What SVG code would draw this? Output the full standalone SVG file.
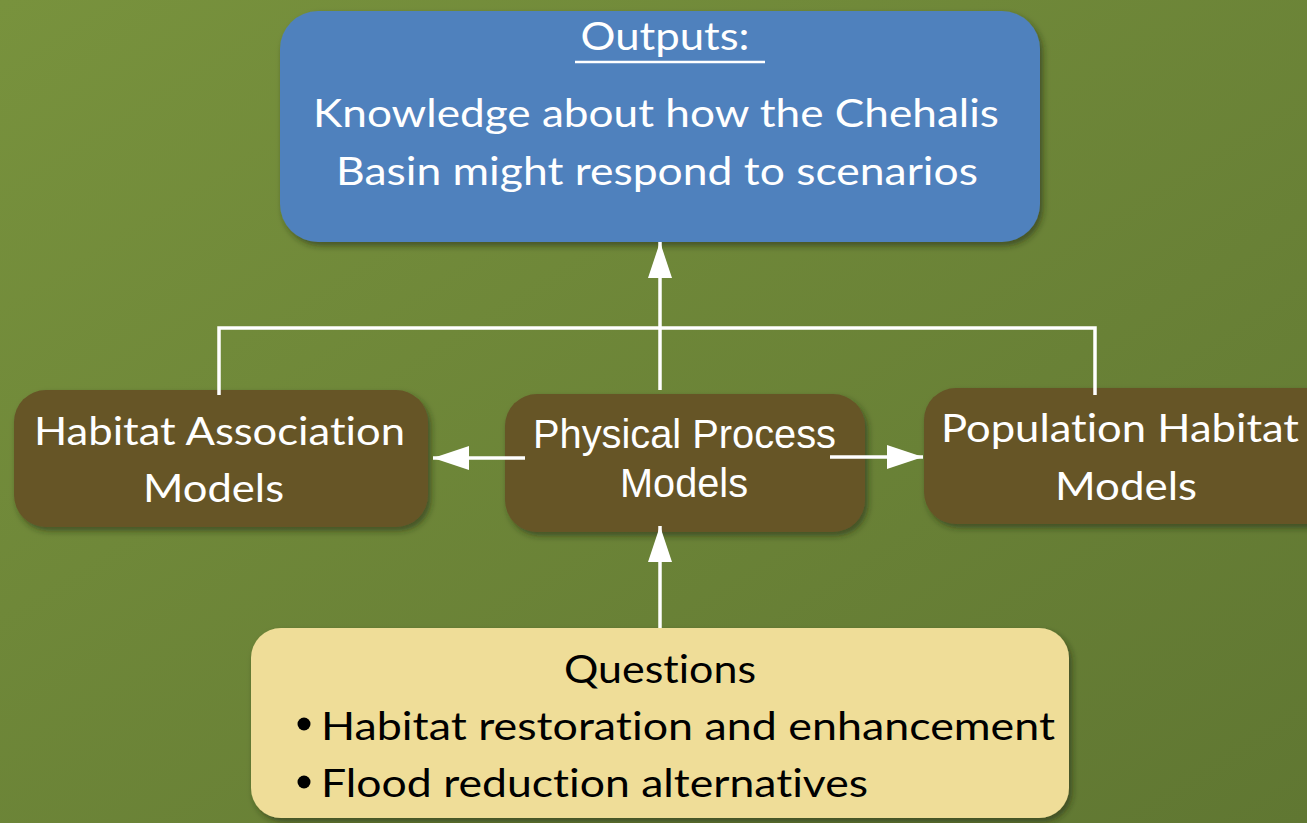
<svg xmlns="http://www.w3.org/2000/svg" width="1307" height="823" viewBox="0 0 1307 823">
<defs>
<linearGradient id="bg" x1="0" y1="0" x2="1" y2="1">
<stop offset="0" stop-color="#78923d"/>
<stop offset="1" stop-color="#607732"/>
</linearGradient>
<filter id="sh" x="-10%" y="-10%" width="125%" height="130%">
<feDropShadow dx="3" dy="4" stdDeviation="3" flood-color="#1e2a0a" flood-opacity="0.55"/>
</filter>
<marker id="ah" viewBox="0 0 36 24" refX="36" refY="12" markerWidth="36" markerHeight="24" markerUnits="userSpaceOnUse" orient="auto">
<path d="M0,0 L36,12 L0,24 z" fill="#ffffff"/>
</marker>
<style>
text{font-variant-ligatures:none;font-feature-settings:"liga" 0,"clig" 0}
.w{fill:#ffffff;font-family:Lato,"Open Sans",sans-serif;font-size:39px}
.a{fill:#ffffff;font-family:"Liberation Sans",Arial,sans-serif;font-size:40px}
.k{fill:#000000;font-family:Lato,"Open Sans",sans-serif;font-size:39px}
.ln{stroke:#ffffff;stroke-width:3.5;fill:none}
.brown{fill:#665428}
</style>
</defs>
<rect width="1307" height="823" fill="url(#bg)"/>
<g id="outputs">
<rect x="280" y="11" width="760" height="231" rx="38" fill="#4f81bd" filter="url(#sh)"/>
<text class="w" x="665" y="50" text-anchor="middle" textLength="169" lengthAdjust="spacingAndGlyphs">Outputs:</text>
<line x1="575" y1="62" x2="765" y2="62" stroke="#ffffff" stroke-width="2.5"/>
<text class="w" x="313" y="127" textLength="686" lengthAdjust="spacingAndGlyphs">Knowledge about how the Chehalis</text>
<text class="w" x="336" y="185" textLength="642" lengthAdjust="spacingAndGlyphs">Basin might respond to scenarios</text>
</g>
<g id="habitat-association">
<rect class="brown" x="14" y="390" width="414" height="137" rx="32" filter="url(#sh)"/>
<text class="w" x="34" y="445" textLength="371" lengthAdjust="spacingAndGlyphs">Habitat Association</text>
<text class="w" x="143" y="502" textLength="141" lengthAdjust="spacingAndGlyphs">Models</text>
</g>
<g id="physical-process">
<rect class="brown" x="505" y="394" width="360" height="138" rx="32" filter="url(#sh)"/>
<text class="a" x="533" y="448" textLength="303" lengthAdjust="spacingAndGlyphs">Physical Process</text>
<text class="a" x="620" y="497" textLength="128" lengthAdjust="spacingAndGlyphs">Models</text>
</g>
<g id="population-habitat">
<rect class="brown" x="924" y="388" width="420" height="136" rx="32" filter="url(#sh)"/>
<text class="w" x="941" y="442" textLength="358" lengthAdjust="spacingAndGlyphs">Population Habitat</text>
<text class="w" x="1055" y="500" textLength="142" lengthAdjust="spacingAndGlyphs">Models</text>
</g>
<g id="questions">
<rect x="251" y="628" width="818" height="190" rx="30" fill="#efdd98" filter="url(#sh)"/>
<text class="k" x="564" y="683" textLength="192" lengthAdjust="spacingAndGlyphs">Questions</text>
<circle cx="304" cy="724" r="6.5" fill="#000000"/>
<text class="k" x="321" y="740" textLength="734" lengthAdjust="spacingAndGlyphs">Habitat restoration and enhancement</text>
<circle cx="304" cy="782" r="6.5" fill="#000000"/>
<text class="k" x="321" y="797" textLength="547" lengthAdjust="spacingAndGlyphs">Flood reduction alternatives</text>
</g>
<g id="connectors">
<path class="ln" d="M219,395 V328 H1095 V395"/>
<line class="ln" x1="660" y1="390" x2="660" y2="242" marker-end="url(#ah)"/>
<line class="ln" x1="525" y1="458" x2="433" y2="458" marker-end="url(#ah)"/>
<line class="ln" x1="830" y1="457" x2="923" y2="457" marker-end="url(#ah)"/>
<line class="ln" x1="660" y1="628" x2="660" y2="526" marker-end="url(#ah)"/>
</g>
</svg>
